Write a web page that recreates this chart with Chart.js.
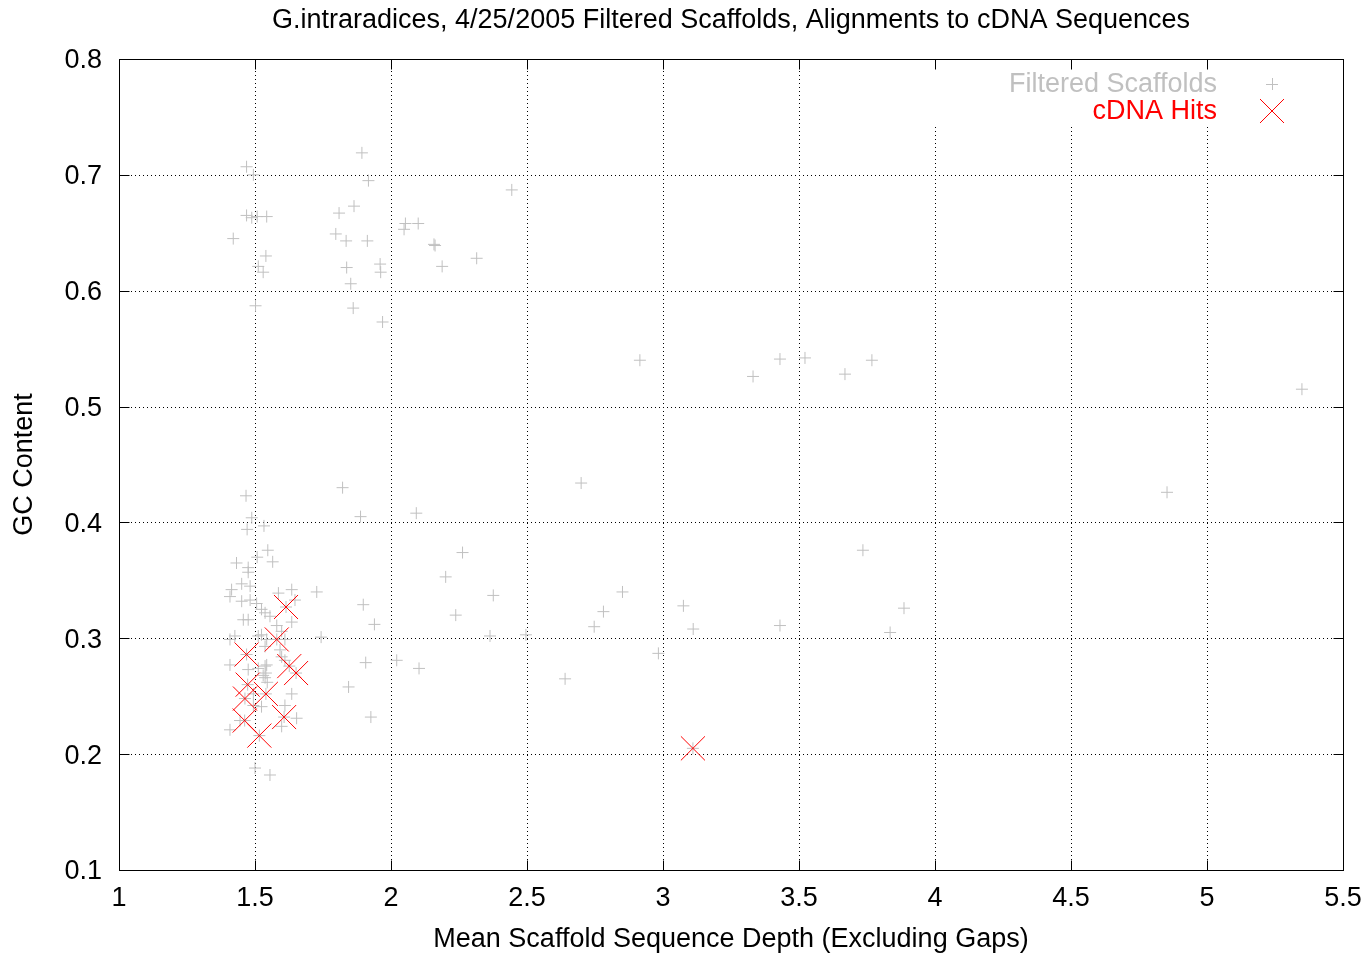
<!DOCTYPE html>
<html>
<head>
<meta charset="utf-8">
<script src="https://cdn.jsdelivr.net/npm/chart.js@4.4.1/dist/chart.umd.min.js"></script>
<style>
  body { margin: 0; background: #fff; }
  #wrap { width: 1368px; height: 954px; }
</style>
</head>
<body>
<div id="wrap"><canvas id="scaffoldChart" width="1368" height="954"></canvas></div>
<script>
// mean depth / GC content of the filtered scaffolds
const scaffoldDepth = [
  1.469, 1.494, 1.893, 1.917, 2.444, 1.469, 1.488, 1.508, 1.543, 1.420, 1.809, 1.864, 1.797, 1.835, 1.913, 2.053,
  2.048, 2.100, 2.158, 2.162, 2.188, 2.315, 1.960, 1.962, 1.837, 1.852, 1.861, 1.969, 1.540, 1.512, 1.530, 1.502,
  2.915, 3.331, 3.430, 3.522, 3.669, 3.768, 5.349, 4.853, 2.699, 3.735, 3.886, 3.835, 3.430, 3.075, 3.111, 2.983,
  2.640, 1.822, 1.888, 2.093, 2.263, 2.201, 2.376, 2.238, 2.364, 2.496, 2.851, 2.781, 2.747, 1.727, 1.898, 1.939,
  1.743, 1.907, 2.021, 2.103, 1.844, 1.926,
  1.467, 1.488, 1.471, 1.533, 1.547, 1.565, 1.508, 1.432, 1.475, 1.475, 1.451, 1.414, 1.408, 1.482, 1.586, 1.635,
  1.451, 1.482, 1.506, 1.647, 1.524, 1.457, 1.475, 1.555, 1.537, 1.580, 1.635, 1.426, 1.512, 1.598, 1.524, 1.408,
  1.610, 1.543, 1.537, 1.592, 1.598, 1.610, 1.408, 1.475, 1.512, 1.543, 1.537, 1.540, 1.545, 1.530, 1.537, 1.635,
  1.610, 1.653, 1.598, 1.445, 1.408, 1.494, 1.524, 1.494, 1.500, 1.555,
  1.614, 1.580, 1.469, 1.626, 1.651, 1.473, 1.463, 1.540, 1.462, 1.607, 1.516, 3.110
];
const scaffoldGC = [
  0.707, 0.700, 0.719, 0.695, 0.687, 0.665, 0.663, 0.664, 0.664, 0.645, 0.667, 0.673, 0.649, 0.643, 0.643, 0.658,
  0.653, 0.658, 0.640, 0.639, 0.621, 0.628, 0.623, 0.616, 0.620, 0.606, 0.585, 0.573, 0.630, 0.621, 0.616, 0.587,
  0.540, 0.526, 0.541, 0.542, 0.528, 0.540, 0.515, 0.426, 0.434, 0.376, 0.326, 0.305, 0.311, 0.328, 0.308, 0.287,
  0.265, 0.430, 0.405, 0.408, 0.374, 0.353, 0.337, 0.320, 0.302, 0.303, 0.340, 0.323, 0.310, 0.340, 0.329, 0.312,
  0.301, 0.279, 0.281, 0.274, 0.258, 0.232,
  0.423, 0.404, 0.394, 0.397, 0.376, 0.366, 0.370, 0.365, 0.361, 0.357, 0.347, 0.342, 0.336, 0.345, 0.339, 0.342,
  0.332, 0.333, 0.330, 0.333, 0.325, 0.316, 0.316, 0.319, 0.322, 0.311, 0.314, 0.302, 0.302, 0.306, 0.303, 0.299,
  0.299, 0.299, 0.293, 0.290, 0.284, 0.281, 0.277, 0.273, 0.274, 0.277, 0.266, 0.270, 0.262, 0.268, 0.276, 0.252,
  0.242, 0.231, 0.224, 0.229, 0.221, 0.242, 0.241, 0.252, 0.188, 0.182,
  0.327, 0.299, 0.286, 0.276, 0.270, 0.260, 0.248, 0.252, 0.229, 0.232, 0.216, 0.205
];
// scaffolds with cDNA alignments
const hitDepth = [1.614, 1.580, 1.469, 1.626, 1.651, 1.473, 1.463, 1.540, 1.462, 1.607, 1.516, 3.110];
const hitGC    = [0.327, 0.299, 0.286, 0.276, 0.270, 0.260, 0.248, 0.252, 0.229, 0.232, 0.216, 0.205];

const xTicks = [1, 1.5, 2, 2.5, 3, 3.5, 4, 4.5, 5, 5.5];
const yTicks = [0.1, 0.2, 0.3, 0.4, 0.5, 0.6, 0.7, 0.8];
const seriesNames = ['Filtered Scaffolds', 'cDNA Hits'];

const grey = '#c0c0c0';
const red = '#ff0000';

Chart.defaults.font.family = '"Liberation Sans", Arial, sans-serif';
Chart.defaults.font.size = 27;
Chart.defaults.color = '#000';

// gnuplot style frame: dotted grid, inward ticks, key in the top right corner
const gnuplotFrame = {
  id: 'gnuplotFrame',
  beforeDatasetsDraw(chart) {
    const { ctx, chartArea: a, scales: { x, y } } = chart;
    ctx.save();
    ctx.strokeStyle = '#000';
    ctx.lineWidth = 1;
    ctx.setLineDash([1, 3]);
    ctx.beginPath();
    xTicks.forEach(v => {
      const px = Math.round(x.getPixelForValue(v)) + 0.5;
      ctx.moveTo(px, a.top);
      ctx.lineTo(px, a.bottom);
    });
    yTicks.forEach(v => {
      const py = Math.round(y.getPixelForValue(v)) + 0.5;
      ctx.moveTo(a.left, py);
      ctx.lineTo(a.right, py);
    });
    ctx.stroke();
    // the key clears its own box
    ctx.fillStyle = '#fff';
    ctx.fillRect(880, a.top, a.right - 880, 66);
    ctx.restore();
  },
  afterDatasetsDraw(chart) {
    const { ctx, chartArea: a, scales: { x, y } } = chart;
    const L = Math.round(a.left) + 0.5, R = Math.round(a.right) + 0.5;
    const T = Math.round(a.top) + 0.5, B = Math.round(a.bottom) + 0.5;
    ctx.save();
    ctx.strokeStyle = '#000';
    ctx.lineWidth = 1;
    ctx.beginPath();
    xTicks.forEach(v => {
      const px = Math.round(x.getPixelForValue(v)) + 0.5;
      ctx.moveTo(px, B); ctx.lineTo(px, B - 10);
      ctx.moveTo(px, T); ctx.lineTo(px, T + 10);
    });
    yTicks.forEach(v => {
      const py = Math.round(y.getPixelForValue(v)) + 0.5;
      ctx.moveTo(L, py); ctx.lineTo(L + 10, py);
      ctx.moveTo(R, py); ctx.lineTo(R - 10, py);
    });
    ctx.stroke();
    ctx.strokeRect(L, T, R - L, B - T);

    // key
    ctx.font = '27px "Liberation Sans", Arial, sans-serif';
    ctx.textAlign = 'right';
    ctx.textBaseline = 'middle';
    ctx.fillStyle = grey;
    ctx.fillText(seriesNames[0], 1217, 85);
    ctx.fillStyle = red;
    ctx.fillText(seriesNames[1], 1217, 112);
    ctx.lineWidth = 1;
    ctx.strokeStyle = grey;
    ctx.beginPath();
    ctx.moveTo(1266, 84.5); ctx.lineTo(1278, 84.5);
    ctx.moveTo(1272.5, 78); ctx.lineTo(1272.5, 90);
    ctx.stroke();
    ctx.strokeStyle = red;
    ctx.beginPath();
    ctx.moveTo(1260, 99); ctx.lineTo(1284, 123);
    ctx.moveTo(1284, 99); ctx.lineTo(1260, 123);
    ctx.stroke();
    ctx.restore();
  }
};

const ctx = document.getElementById('scaffoldChart').getContext('2d');
const scaffoldChart = new Chart(ctx, {
  type: 'scatter',
  data: {
    datasets: [{
      label: seriesNames[0],
      data: scaffoldDepth.map((d, i) => ({ x: d, y: scaffoldGC[i] })),
      pointStyle: 'cross',
      pointRadius: 6,
      borderColor: grey,
      backgroundColor: grey,
      borderWidth: 1,
      order: 2
    }, {
      label: seriesNames[1],
      data: hitDepth.map((d, i) => ({ x: d, y: hitGC[i] })),
      pointStyle: 'crossRot',
      pointRadius: 17,
      borderColor: red,
      backgroundColor: red,
      borderWidth: 1,
      order: 1
    }]
  },
  options: {
    responsive: false,
    animation: false,
    layout: { padding: { right: 25 } },
    plugins: {
      legend: { display: false },
      tooltip: { enabled: false },
      title: {
        display: true,
        fullSize: false,
        text: 'G.intraradices, 4/25/2005 Filtered Scaffolds, Alignments to cDNA Sequences',
        font: { size: 27, weight: 'normal' },
        color: '#000',
        padding: { top: 4, bottom: 22.6 }
      }
    },
    scales: {
      x: {
        type: 'linear',
        min: 1,
        max: 5.5,
        afterBuildTicks: (scale) => { scale.ticks = xTicks.map(v => ({ value: v })); },
        ticks: { padding: 12, maxRotation: 0, callback: (v) => String(v) },
        grid: { display: false, drawTicks: false },
        border: { display: false },
        title: {
          display: true,
          text: 'Mean Scaffold Sequence Depth (Excluding Gaps)',
          padding: { top: 0, bottom: -2 }
        },
        afterFit: (scale) => {
          scale.height = 84;
          scale.paddingLeft = 0;
          scale.paddingRight = 0;
        }
      },
      y: {
        type: 'linear',
        min: 0.1,
        max: 0.8,
        afterBuildTicks: (scale) => { scale.ticks = yTicks.map(v => ({ value: v })); },
        ticks: { padding: 17, labelOffset: 2, callback: (v) => String(v) },
        grid: { display: false, drawTicks: false },
        border: { display: false },
        title: {
          display: true,
          text: 'GC Content',
          padding: { top: 8, bottom: 0 }
        },
        afterFit: (scale) => {
          scale.width = 119;
          scale.paddingTop = 0;
          scale.paddingBottom = 0;
        }
      }
    }
  },
  plugins: [gnuplotFrame]
});
</script>
</body>
</html>
